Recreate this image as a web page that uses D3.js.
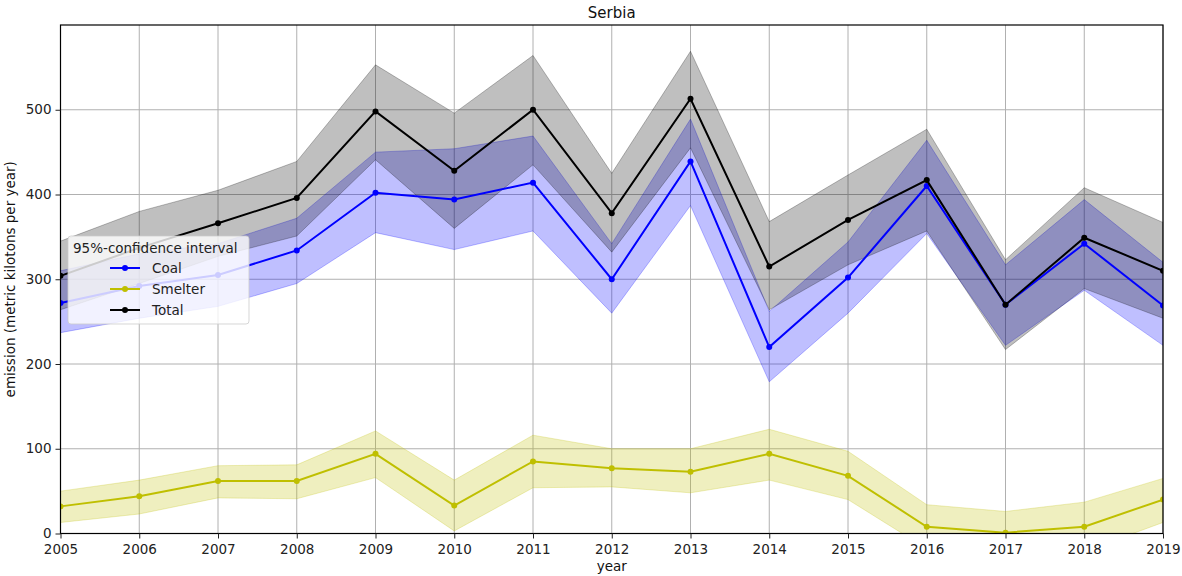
<!DOCTYPE html>
<html><head><meta charset="utf-8">
<script src="https://cdn.jsdelivr.net/npm/d3@7"></script>
<style>body{margin:0;background:#fff;} svg{display:block;font-family:"DejaVu Sans",sans-serif;}</style>
</head><body>
<svg id="chart" width="1182" height="576"></svg>
<script>
const years = [2005,2006,2007,2008,2009,2010,2011,2012,2013,2014,2015,2016,2017,2018,2019];
const coal      = [272,292,305,334,402,394,414,300,439,220,302,410,270,342,269];
const coalLow   = [237,254,268,295,355,335,357,260,387,179,260,354,222,287,222];
const coalHigh  = [310,330,342,372,450,454,469,342,489,262,344,464,317,394,320];
const smelter     = [32,44,62,62,94,33,85,77,73,94,68,8,1,8,40];
const smelterLow  = [13,23,42,41,66,3,54,55,48,63,40,-18,-25,-21,13];
const smelterHigh = [50,63,80,81,121,63,116,100,100,123,97,34,26,37,65];
const total     = [304,337,366,396,498,428,500,378,513,315,370,417,270,349,310];
const totalLow  = [264,295,327,351,441,360,435,332,455,264,317,357,217,289,254];
const totalHigh = [345,380,405,439,553,496,564,425,569,368,423,477,323,408,367];
const yTicks = [0,100,200,300,400,500];
const seriesNames = ["Coal","Smelter","Total"];
const legendTitle = "95%-confidence interval";

const svg = d3.select("#chart");
const m = {l:60.5, r:1163, t:25, b:533.5};
const x = d3.scaleLinear().domain([2005,2019]).range([m.l,m.r]);
const y = d3.scaleLinear().domain([0,600]).range([m.b,m.t]);

svg.append("defs").append("clipPath").attr("id","clip")
  .append("rect").attr("x",m.l).attr("y",m.t).attr("width",m.r-m.l).attr("height",m.b-m.t);

// grid
const g = svg.append("g");
g.selectAll(".vg").data(years).enter().append("line")
  .attr("x1",d=>x(d)).attr("x2",d=>x(d)).attr("y1",m.t).attr("y2",m.b)
  .attr("stroke","#b0b0b0").attr("stroke-width",1);
g.selectAll(".hg").data(yTicks).enter().append("line")
  .attr("x1",m.l).attr("x2",m.r).attr("y1",d=>y(d)).attr("y2",d=>y(d))
  .attr("stroke","#b0b0b0").attr("stroke-width",1);

const series = [
  {name:"Coal", v:coal, lo:coalLow, hi:coalHigh, c:"#0000ff"},
  {name:"Smelter", v:smelter, lo:smelterLow, hi:smelterHigh, c:"#bfbf00"},
  {name:"Total", v:total, lo:totalLow, hi:totalHigh, c:"#000000"}
];
const plot = svg.append("g").attr("clip-path","url(#clip)");
const area = d3.area().x((d,i)=>x(years[i])).y0(d=>y(d[0])).y1(d=>y(d[1]));
const line = d3.line().x((d,i)=>x(years[i])).y(d=>y(d));
series.forEach(s=>{
  plot.append("path").datum(s.lo.map((l,i)=>[l,s.hi[i]])).attr("d",area)
    .attr("fill",s.c).attr("fill-opacity",0.25).attr("stroke",s.c).attr("stroke-opacity",0.25).attr("stroke-width",1);
});
series.forEach(s=>{
  plot.append("path").datum(s.v).attr("d",line).attr("fill","none").attr("stroke",s.c).attr("stroke-width",2);
  plot.selectAll(null).data(s.v).enter().append("circle")
    .attr("cx",(d,i)=>x(years[i])).attr("cy",d=>y(d)).attr("r",3).attr("fill",s.c);
});

// frame
svg.append("rect").attr("x",m.l).attr("y",m.t).attr("width",m.r-m.l).attr("height",m.b-m.t)
  .attr("fill","none").attr("stroke","#000").attr("stroke-width",1.2);

// axes
const xa = svg.append("g").attr("transform",`translate(0,${m.b})`)
  .call(d3.axisBottom(x).tickValues(years).tickFormat(d3.format("d")).tickSize(5).tickPadding(6));
const ya = svg.append("g").attr("transform",`translate(${m.l},0)`)
  .call(d3.axisLeft(y).tickValues(yTicks).tickSize(5).tickPadding(4));
[xa,ya].forEach(a=>{a.select(".domain").remove();
  a.selectAll("text").attr("font-size",13.5).attr("fill","#222").attr("font-family","DejaVu Sans");
  a.selectAll("line").attr("stroke","#222");});
ya.selectAll("text").attr("dy","0.3em");

svg.append("text").attr("x",(m.l+m.r)/2).attr("y",18).attr("text-anchor","middle")
  .attr("font-size",15).attr("fill","#111").text("Serbia");
svg.append("text").attr("x",(m.l+m.r)/2).attr("y",571).attr("text-anchor","middle")
  .attr("font-size",13.5).attr("fill","#111").text("year");
svg.append("text").attr("transform",`translate(15,${(m.t+m.b)/2}) rotate(-90)`).attr("text-anchor","middle")
  .attr("font-size",13.5).attr("fill","#111").text("emission (metric kilotons per year)");

// legend
const lg = svg.append("g").attr("transform","translate(68,236)");
lg.append("rect").attr("width",181).attr("height",88).attr("rx",3)
  .attr("fill","#fff").attr("fill-opacity",0.8).attr("stroke","#ccc").attr("stroke-opacity",0.8);
lg.append("text").attr("x",5).attr("y",17).attr("font-size",13.5).attr("fill","#222").text(legendTitle);
seriesNames.forEach((n,i)=>{
  const s = series[i];
  const yy = 32 + i*21;
  lg.append("line").attr("x1",42).attr("x2",72).attr("y1",yy).attr("y2",yy).attr("stroke",s.c).attr("stroke-width",2);
  lg.append("circle").attr("cx",57).attr("cy",yy).attr("r",3).attr("fill",s.c);
  lg.append("text").attr("x",84).attr("y",yy+5).attr("font-size",13.5).attr("fill","#222").text(n);
});
</script>
</body></html>
